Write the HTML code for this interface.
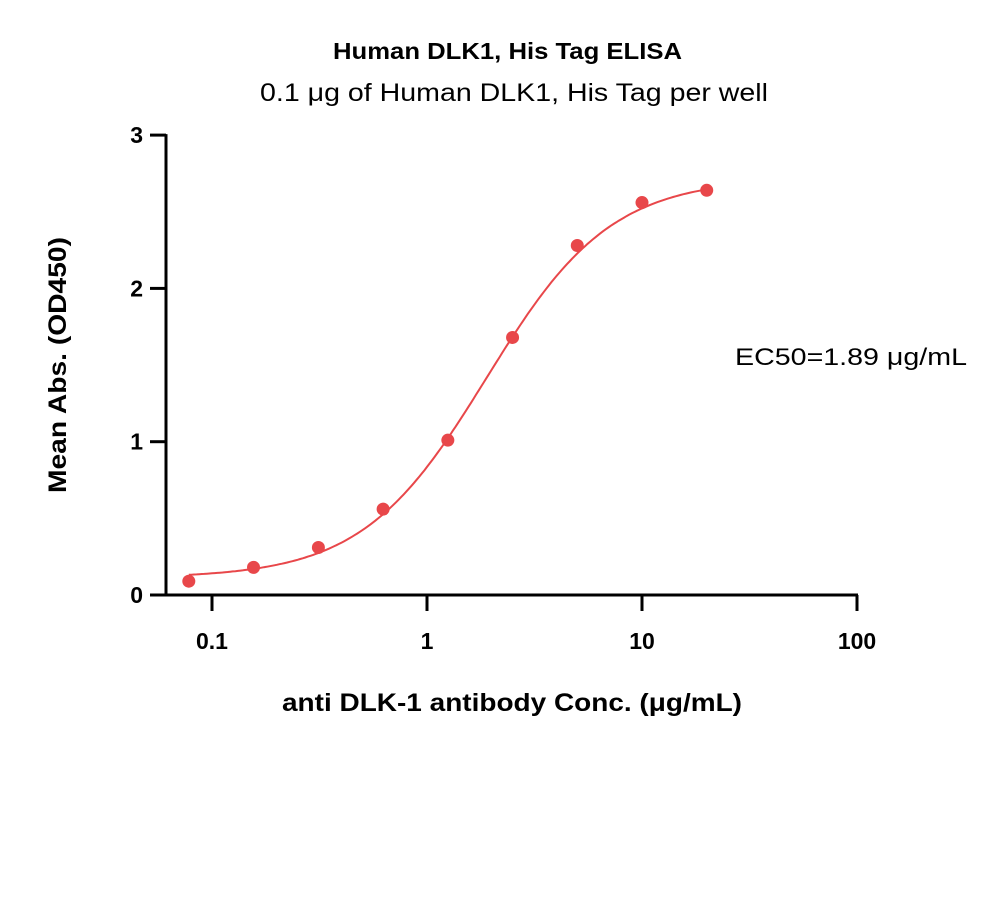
<!DOCTYPE html>
<html><head><meta charset="utf-8"><style>
body{margin:0;background:#fff;width:1000px;height:907px;overflow:hidden}
text{font-family:"Liberation Sans",sans-serif;fill:#000}
</style></head><body>
<svg id="chart" width="1000" height="907">
<text x="333" y="59" textLength="349" lengthAdjust="spacingAndGlyphs" font-size="23" font-weight="bold">Human DLK1, His Tag ELISA</text>
<text x="260" y="101" textLength="508" lengthAdjust="spacingAndGlyphs" font-size="25">0.1 μg of Human DLK1, His Tag per well</text>
<text transform="translate(66,365) rotate(-90)" x="-128" textLength="256" lengthAdjust="spacingAndGlyphs" font-size="25" font-weight="bold">Mean Abs. (OD450)</text>
<text x="282" y="711" textLength="460" lengthAdjust="spacingAndGlyphs" font-size="25" font-weight="bold">anti DLK-1 antibody Conc. (μg/mL)</text>
<text x="735" y="365" textLength="232" lengthAdjust="spacingAndGlyphs" font-size="24">EC50=1.89 μg/mL</text>
<g id="axes"></g><g id="curve"></g><g id="points"></g>
</svg>
<script>
const xVals=[0.078,0.156,0.3125,0.625,1.25,2.5,5,10,20];
const yVals=[0.09,0.18,0.31,0.56,1.01,1.68,2.28,2.56,2.64];
const xTicks=[0.1,1,10,100];
const xTickLabels=["0.1","1","10","100"];
const yTicks=[0,1,2,3];
const fitBottom=0.11, fitTop=2.72, fitEC50=1.89, fitHill=1.5;
const NS="http://www.w3.org/2000/svg";
function X(v){return 427+(Math.log10(v))*215;}
function Y(v){return 595-v*153.3;}
function mk(tag,attrs,parent){const e=document.createElementNS(NS,tag);for(const k in attrs)e.setAttribute(k,attrs[k]);parent.appendChild(e);return e;}
const ax=document.getElementById('axes');
let l=mk('line',{x1:166,y1:Y(3)-1,x2:166,y2:596,stroke:'#000','stroke-width':3},ax);


l=mk('line',{x1:165,y1:595,x2:X(100)+1,y2:595,stroke:'#000','stroke-width':3},ax);


yTicks.forEach(t=>{
 const tk=mk('line',{x1:150,y1:Y(t),x2:166,y2:Y(t),stroke:'#000','stroke-width':3},ax);
 
 
 const tx=mk('text',{x:143,y:Y(t)+8,'text-anchor':'end','font-size':23,'font-weight':'bold'},ax);
 tx.textContent=String(t);
 
 
});
xTicks.forEach((t,i)=>{
 const tk=mk('line',{x1:X(t),y1:595,x2:X(t),y2:611,stroke:'#000','stroke-width':3},ax);
 
 
 const tx=mk('text',{x:X(t),y:649,'text-anchor':'middle','font-size':23,'font-weight':'bold'},ax);
 tx.textContent=xTickLabels[i];
 
 
});
let d='';
const lo=Math.log10(xVals[0]),hi=Math.log10(xVals[xVals.length-1]);
for(let i=0;i<=200;i++){const lx=lo+(hi-lo)*i/200,x=Math.pow(10,lx);
 const y=fitBottom+(fitTop-fitBottom)/(1+Math.pow(fitEC50/x,fitHill));
 d+=(i?'L':'M')+X(x).toFixed(1)+','+Y(y).toFixed(1);}
const p=mk('path',{d:d,fill:'none',stroke:'#e8474a','stroke-width':2},document.getElementById('curve'));


const pg=document.getElementById('points');
xVals.forEach((x,i)=>{
 const c=mk('circle',{cx:X(x),cy:Y(yVals[i]),r:6.5,fill:'#e8474a'},pg);
 
 
});
</script>
</body></html>
